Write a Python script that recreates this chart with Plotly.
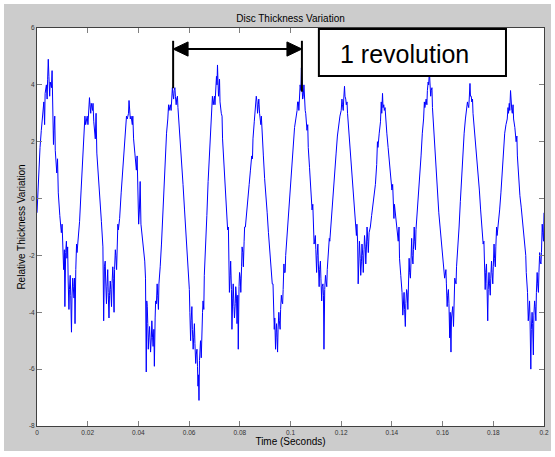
import plotly.graph_objects as go

# ---------------- data ----------------
# smooth-ish course of the measured signal (time in seconds, relative thickness)
trend_time = [
    0.0000, 0.0004, 0.0008, 0.0012, 0.0017, 0.0022, 0.0027, 0.0032, 0.0037, 0.0042,
    0.0047, 0.0052, 0.0057, 0.0062, 0.0067, 0.0072, 0.0078, 0.0084, 0.0090, 0.0096,
    0.0102, 0.0108, 0.0113, 0.0118, 0.0123, 0.0128, 0.0133, 0.0138, 0.0143, 0.0148,
    0.0153, 0.0158, 0.0163, 0.0168, 0.0174, 0.0180, 0.0186, 0.0192, 0.0198, 0.0204,
    0.0209, 0.0214, 0.0219, 0.0224, 0.0230, 0.0236, 0.0242, 0.0248, 0.0254, 0.0260,
    0.0266, 0.0271, 0.0276, 0.0281, 0.0286, 0.0291, 0.0296, 0.0301, 0.0306, 0.0311,
    0.0316, 0.0321, 0.0326, 0.0332, 0.0338, 0.0344, 0.0350, 0.0356, 0.0361, 0.0366,
    0.0371, 0.0376, 0.0381, 0.0386, 0.0392, 0.0398, 0.0404, 0.0410, 0.0416, 0.0422,
    0.0428, 0.0433, 0.0437, 0.0441, 0.0446, 0.0451, 0.0456, 0.0461, 0.0466, 0.0471,
    0.0476, 0.0481, 0.0486, 0.0491, 0.0496, 0.0501, 0.0506, 0.0511, 0.0516, 0.0521,
    0.0526, 0.0531, 0.0536, 0.0541, 0.0546, 0.0551, 0.0556, 0.0561, 0.0566, 0.0571,
    0.0576, 0.0582, 0.0588, 0.0593, 0.0598, 0.0603, 0.0608, 0.0613, 0.0618, 0.0623,
    0.0628, 0.0633, 0.0637, 0.0641, 0.0645, 0.0650, 0.0655, 0.0660, 0.0665, 0.0670,
    0.0675, 0.0680, 0.0685, 0.0690, 0.0695, 0.0700, 0.0705, 0.0710, 0.0714, 0.0718,
    0.0722, 0.0727, 0.0732, 0.0737, 0.0742, 0.0747, 0.0752, 0.0757, 0.0762, 0.0767,
    0.0772, 0.0777, 0.0782, 0.0787, 0.0792, 0.0797, 0.0802, 0.0807, 0.0812, 0.0817,
    0.0822, 0.0827, 0.0832, 0.0837, 0.0842, 0.0847, 0.0852, 0.0857, 0.0862, 0.0868,
    0.0873, 0.0878, 0.0883, 0.0888, 0.0893, 0.0898, 0.0903, 0.0908, 0.0913, 0.0918,
    0.0923, 0.0928, 0.0933, 0.0938, 0.0943, 0.0947, 0.0951, 0.0956, 0.0961, 0.0966,
    0.0971, 0.0976, 0.0981, 0.0986, 0.0991, 0.0996, 0.1001, 0.1006, 0.1011, 0.1016,
    0.1021, 0.1026, 0.1031, 0.1036, 0.1041, 0.1045, 0.1050, 0.1055, 0.1060, 0.1065,
    0.1070, 0.1075, 0.1080, 0.1085, 0.1090, 0.1095, 0.1100, 0.1105, 0.1110, 0.1115,
    0.1120, 0.1125, 0.1130, 0.1135, 0.1140, 0.1145, 0.1150, 0.1155, 0.1160, 0.1165,
    0.1170, 0.1175, 0.1180, 0.1185, 0.1190, 0.1195, 0.1200, 0.1205, 0.1210, 0.1215,
    0.1220, 0.1225, 0.1230, 0.1235, 0.1240, 0.1245, 0.1250, 0.1255, 0.1260, 0.1265,
    0.1270, 0.1275, 0.1280, 0.1285, 0.1290, 0.1295, 0.1300, 0.1305, 0.1310, 0.1315,
    0.1320, 0.1325, 0.1330, 0.1335, 0.1340, 0.1345, 0.1350, 0.1355, 0.1360, 0.1365,
    0.1370, 0.1375, 0.1380, 0.1385, 0.1390, 0.1395, 0.1400, 0.1405, 0.1410, 0.1415,
    0.1420, 0.1425, 0.1430, 0.1435, 0.1440, 0.1445, 0.1450, 0.1455, 0.1460, 0.1465,
    0.1470, 0.1475, 0.1480, 0.1485, 0.1490, 0.1495, 0.1500, 0.1505, 0.1510, 0.1515,
    0.1520, 0.1525, 0.1530, 0.1535, 0.1540, 0.1545, 0.1550, 0.1555, 0.1560, 0.1565,
    0.1570, 0.1575, 0.1580, 0.1585, 0.1590, 0.1595, 0.1600, 0.1605, 0.1610, 0.1615,
    0.1620, 0.1625, 0.1630, 0.1635, 0.1640, 0.1645, 0.1650, 0.1655, 0.1660, 0.1665,
    0.1670, 0.1675, 0.1680, 0.1685, 0.1690, 0.1695, 0.1700, 0.1705, 0.1710, 0.1715,
    0.1720, 0.1725, 0.1730, 0.1735, 0.1740, 0.1745, 0.1750, 0.1755, 0.1760, 0.1765,
    0.1770, 0.1775, 0.1780, 0.1785, 0.1790, 0.1795, 0.1800, 0.1805, 0.1810, 0.1815,
    0.1820, 0.1825, 0.1830, 0.1835, 0.1840, 0.1845, 0.1850, 0.1855, 0.1860, 0.1865,
    0.1870, 0.1875, 0.1880, 0.1885, 0.1890, 0.1895, 0.1900, 0.1905, 0.1910, 0.1915,
    0.1920, 0.1925, 0.1930, 0.1935, 0.1940, 0.1945, 0.1950, 0.1955, 0.1960, 0.1965,
    0.1970, 0.1975, 0.1980, 0.1985, 0.1990, 0.1995, 0.2000,
]
trend_value = [
    -0.5, 0.4, 1.3, 1.8, 2.4, 3.1, 3.4, 3.7, 4.0, 4.2,
    4.3, 4.1, 3.9, 3.3, 2.4, 1.7, 0.9, 0.2, -0.6, -1.2,
    -1.7, -1.8, -1.9, -2.1, -2.9, -3.2, -3.4, -3.5, -3.1, -2.8,
    -2.5, -1.9, -1.3, -0.8, 0.3, 1.3, 2.1, 2.6, 2.9, 3.2,
    3.3, 3.35, 3.1, 2.7, 2.1, 1.6, 0.9, 0.0, -0.8, -1.7,
    -2.4, -2.9, -3.1, -3.3, -3.4, -3.2, -3.0, -2.8, -2.5, -2.0,
    -1.4, -1.1, -0.7, 0.2, 1.0, 1.9, 2.5, 2.8, 3.0, 3.1,
    2.9, 2.6, 2.1, 1.6, 1.0, 0.2, -0.4, -0.9, -1.4, -2.0,
    -2.8, -3.6, -4.4, -4.9, -5.0, -4.9, -4.9, -4.6, -4.2, -3.7,
    -3.4, -3.0, -2.4, -1.6, -0.6, 0.5, 1.5, 2.3, 2.8, 3.1,
    3.3, 3.5, 3.7, 3.8, 3.6, 3.5, 3.2, 2.6, 1.8, 1.1,
    0.5, -0.4, -1.2, -1.9, -2.9, -4.0, -4.3, -4.6, -4.9, -5.1,
    -5.5, -5.9, -6.2, -5.7, -5.0, -4.5, -3.6, -2.7, -1.8, -0.6,
    0.6, 1.6, 2.6, 3.1, 3.3, 3.6, 3.8, 4.0, 4.1, 3.8,
    3.4, 3.0, 2.1, 1.3, 0.5, -0.3, -1.1, -2.0, -2.7, -3.2,
    -3.5, -3.8, -3.7, -3.5, -3.4, -3.1, -2.8, -2.4, -1.9, -1.5,
    -1.0, -0.4, 0.0, 0.5, 1.0, 1.5, 2.1, 2.7, 3.1, 3.4,
    3.3, 3.0, 2.6, 2.1, 1.5, 0.7, 0.2, -0.5, -1.2, -1.8,
    -2.4, -3.0, -3.6, -4.2, -4.7, -4.9, -4.6, -4.3, -3.9, -3.6,
    -3.2, -2.6, -2.0, -1.3, -0.6, 0.0, 0.8, 1.5, 2.1, 2.5,
    2.8, 3.1, 3.4, 3.6, 3.8, 4.0, 3.6, 3.4, 3.0, 2.4,
    1.8, 1.1, 0.4, -0.4, -1.0, -1.5, -1.8, -2.0, -2.3, -2.5,
    -2.8, -3.1, -3.4, -3.2, -2.9, -2.5, -2.0, -1.5, -0.8, -0.2,
    0.5, 1.0, 1.6, 2.2, 2.6, 2.9, 3.1, 3.3, 3.5, 3.6,
    3.3, 3.0, 2.4, 1.8, 1.1, 0.4, -0.2, -0.8, -1.3, -1.6,
    -1.9, -2.1, -2.2, -2.0, -1.8, -1.7, -1.6, -1.5, -1.2, -1.0,
    -0.6, -0.2, 0.1, 0.5, 1.2, 1.8, 2.3, 2.7, 3.0, 3.2,
    3.1, 2.8, 2.3, 1.8, 1.2, 0.7, 0.3, 0.0, -0.2, -0.6,
    -1.0, -1.5, -2.1, -2.7, -3.3, -3.7, -3.9, -3.7, -3.3, -2.9,
    -2.6, -2.3, -2.0, -1.8, -1.5, -1.1, -0.5, 0.2, 0.8, 1.5,
    2.3, 2.8, 3.2, 3.5, 3.8, 4.0, 4.1, 3.8, 3.2, 2.4,
    1.6, 0.9, 0.3, -0.5, -1.0, -1.5, -2.0, -2.3, -2.7, -3.0,
    -3.4, -3.7, -4.0, -4.2, -3.8, -3.4, -2.9, -2.4, -1.8, -1.0,
    -0.1, 0.8, 1.6, 2.3, 2.8, 3.1, 3.3, 3.5, 3.6, 3.4,
    3.0, 2.5, 1.9, 1.3, 0.8, 0.3, -0.4, -1.0, -1.6, -2.1,
    -2.6, -3.0, -3.2, -3.0, -2.8, -2.6, -2.4, -2.1, -1.7, -1.3,
    -0.9, -0.4, 0.2, 0.9, 1.7, 2.3, 2.6, 2.8, 3.0, 3.1,
    3.2, 3.0, 2.8, 2.5, 2.0, 1.5, 0.6, 0.1, -0.3, -0.8,
    -1.4, -1.9, -2.6, -3.3, -3.8, -4.3, -4.6, -4.4, -4.1, -3.8,
    -3.3, -3.0, -2.6, -2.2, -1.9, -1.2, -0.5,
]

# single noisy samples (hair-like spikes)
spike_time = [
    0.0030, 0.0040, 0.00445, 0.0050, 0.00595, 0.0065, 0.0070, 0.0081, 0.0099, 0.0105,
    0.0110, 0.0116, 0.0121, 0.0126, 0.0131, 0.0136, 0.0141, 0.0146, 0.0150, 0.0156,
    0.0189, 0.0201, 0.0207, 0.0212, 0.0221, 0.0233, 0.0263, 0.0269, 0.0274, 0.0279,
    0.0284, 0.0289, 0.0294, 0.0299, 0.0304, 0.0309, 0.0314, 0.0319, 0.0347, 0.0353,
    0.0363, 0.0368, 0.0378, 0.0395, 0.0401, 0.0407, 0.0425, 0.0431, 0.0435, 0.0439,
    0.0444, 0.0448, 0.0453, 0.0458, 0.0463, 0.0468, 0.0474, 0.0479, 0.0483, 0.0519,
    0.0529, 0.0534, 0.0539, 0.0544, 0.0549, 0.0554, 0.0601, 0.0606, 0.0611, 0.0616,
    0.0621, 0.0626, 0.0631, 0.0635, 0.0639, 0.0643, 0.0648, 0.0653, 0.0658, 0.0692,
    0.0702, 0.0708, 0.0712, 0.0716, 0.0720, 0.0730, 0.0755, 0.0759, 0.0764, 0.0769,
    0.0774, 0.0779, 0.0784, 0.0789, 0.0794, 0.0799, 0.0804, 0.0809, 0.0814, 0.0819,
    0.0850, 0.0860, 0.0865, 0.0870, 0.0875, 0.0885, 0.0931, 0.0936, 0.0941, 0.0945,
    0.0949, 0.0954, 0.0959, 0.0964, 0.0969, 0.0974, 0.0979, 0.1028, 0.1033, 0.1038,
    0.1043, 0.1048, 0.1053, 0.1058, 0.1068, 0.1088, 0.1093, 0.1098, 0.1103, 0.1108,
    0.1113, 0.1118, 0.1123, 0.1128, 0.1132, 0.1138, 0.1143, 0.1148, 0.1153, 0.1203,
    0.1208, 0.1213, 0.1218, 0.1223, 0.1262, 0.1267, 0.1272, 0.1277, 0.1282, 0.1287,
    0.1292, 0.1297, 0.1302, 0.1307, 0.1343, 0.1358, 0.1363, 0.1368, 0.1373, 0.1403,
    0.1408, 0.1428, 0.1438, 0.1443, 0.1448, 0.1453, 0.1458, 0.1463, 0.1468, 0.1473,
    0.1478, 0.1483, 0.1488, 0.1493, 0.1528, 0.1538, 0.1543, 0.1548, 0.1553, 0.1558,
    0.1608, 0.1613, 0.1618, 0.1623, 0.1628, 0.1633, 0.1638, 0.1643, 0.1648, 0.1653,
    0.1698, 0.1703, 0.1708, 0.1713, 0.1718, 0.1763, 0.1768, 0.1773, 0.1778, 0.1783,
    0.1788, 0.1793, 0.1798, 0.1803, 0.1808, 0.1813, 0.1858, 0.1863, 0.1868, 0.1873,
    0.1878, 0.1893, 0.1928, 0.1938, 0.1943, 0.1948, 0.1953, 0.1958, 0.1963, 0.1968,
    0.1973, 0.1978, 0.1983, 0.1988, 0.1993, 0.1998,
]
spike_value = [
    2.6, 3.5, 4.9, 3.6, 4.5, 1.9, 2.9, 1.4, -0.9, -2.5,
    -3.8, -1.5, -1.7, -3.9, -2.7, -4.7, -2.8, -3.5, -4.4, -1.6,
    2.9, 2.6, 3.55, 3.0, 3.35, 3.0, -4.3, -2.2, -3.7, -2.5,
    -4.2, -2.9, -3.8, -2.4, -4.0, -1.8, -2.5, -0.9, 2.2, 2.9,
    3.45, 2.8, 2.9, 1.5, -0.9, 0.6, -2.2, -6.1, -3.8, -5.3,
    -4.5, -5.4, -4.3, -5.2, -5.9, -3.6, -3.0, -3.9, -2.6, 3.3,
    3.1, 3.9, 3.5, 3.9, 3.3, 3.6, -3.2, -5.0, -3.8, -5.3,
    -4.4, -5.8, -5.3, -6.6, -7.1, -5.2, -5.6, -4.0, -3.9, 3.6,
    3.3, 4.3, 4.7, 3.6, 4.2, 2.9, -1.0, -3.3, -2.2, -4.6,
    -3.0, -4.2, -3.1, -4.4, -5.3, -2.6, -3.3, -1.7, -2.4, -1.0,
    1.4, 3.2, 3.6, 3.0, 3.5, 2.9, -3.0, -4.6, -5.3, -4.4,
    -5.4, -4.0, -4.6, -3.4, -3.7, -2.3, -2.6, 3.4, 3.1, 4.0,
    4.6, 3.5, 4.0, 3.1, 2.6, -0.2, -1.6, -1.3, -2.6, -1.6,
    -3.1, -2.2, -3.6, -3.0, -5.3, -2.7, -3.1, -2.0, -1.4, 3.5,
    3.1, 3.95, 3.5, 3.4, -0.9, -3.0, -1.5, -2.7, -1.6, -2.6,
    -1.3, -2.3, -1.0, -1.9, 2.0, 3.4, 3.7, 3.3, 3.2, 0.5,
    -0.7, -1.0, -3.0, -4.1, -3.3, -4.5, -3.2, -3.9, -2.1, -2.8,
    -1.4, -2.3, -1.0, -1.8, 3.4, 3.3, 4.1, 4.5, 3.6, 3.9,
    -2.8, -2.5, -3.8, -3.2, -4.9, -5.4, -3.8, -4.5, -2.8, -3.0,
    3.4, 3.2, 4.05, 3.6, 3.5, -1.5, -3.2, -2.3, -4.3, -2.6,
    -3.4, -2.2, -3.0, -1.6, -2.4, -1.0, 3.2, 3.35, 3.8, 3.1,
    3.3, 2.2, -2.0, -4.3, -3.6, -6.0, -4.0, -5.5, -3.6, -4.3,
    -2.6, -3.3, -1.9, -2.3, -0.9, -1.5,
]

x_ticks = [0, 0.02, 0.04, 0.06, 0.08, 0.1, 0.12, 0.14, 0.16, 0.18, 0.2]
x_tick_labels = ["0", "0.02", "0.04", "0.06", "0.08", "0.1", "0.12", "0.14", "0.16", "0.18", "0.2"]
y_ticks = [-8, -6, -4, -2, 0, 2, 4, 6]
y_tick_labels = ["-8", "-6", "-4", "-2", "0", "2", "4", "6"]

revolution_start = 0.0537   # s, left bracket of "1 revolution"
revolution_end = 0.1045     # s, right bracket
revolution_label = "1 revolution"

assert len(trend_time) == len(trend_value)
assert len(spike_time) == len(spike_value)

# merge the trend and the spikes in time order
samples = sorted(zip(trend_time + spike_time, trend_value + spike_value))
t_all = [s[0] for s in samples]
y_all = [s[1] for s in samples]

# ---------------- figure ----------------
W, H = 555, 457
L, R, T, B = 37, 11, 28, 31
PW, PH = W - L - R, H - T - B

def paper_x(px):
    return (px - L) / PW

def paper_y(py):
    return (H - B - py) / PH

FONT = "Liberation Sans, Arial, Helvetica, sans-serif"

fig = go.Figure()
fig.add_trace(go.Scatter(
    x=t_all, y=y_all, mode="lines",
    line=dict(color="#0000ff", width=1),
    hoverinfo="skip", showlegend=False,
))

shapes = [
    # grey figure window
    dict(type="rect", xref="paper", yref="paper", layer="below",
         x0=paper_x(4), x1=paper_x(551), y0=paper_y(451), y1=paper_y(4),
         fillcolor="#cccccc", line=dict(width=0)),
    # white axes area
    dict(type="rect", xref="paper", yref="paper", layer="below",
         x0=0, x1=1, y0=0, y1=1, fillcolor="#ffffff", line=dict(width=0)),
]

# revolution bracket (data coordinates)
arrow_y = 5.26
head_len = 0.0059
head_half = 0.25
shapes += [
    dict(type="line", xref="x", yref="y", x0=revolution_start, x1=revolution_start,
         y0=3.88, y1=5.55, line=dict(color="black", width=2)),
    dict(type="line", xref="x", yref="y", x0=revolution_end, x1=revolution_end,
         y0=3.76, y1=5.55, line=dict(color="black", width=2)),
    dict(type="line", xref="x", yref="y", x0=revolution_start + head_len / 2,
         x1=revolution_end - head_len / 2, y0=arrow_y, y1=arrow_y,
         line=dict(color="black", width=2)),
    dict(type="path", xref="x", yref="y",
         path=f"M {revolution_start},{arrow_y} L {revolution_start + head_len},{arrow_y + head_half} "
              f"L {revolution_start + head_len},{arrow_y - head_half} Z",
         fillcolor="black", line=dict(color="black", width=1)),
    dict(type="path", xref="x", yref="y",
         path=f"M {revolution_end},{arrow_y} L {revolution_end - head_len},{arrow_y + head_half} "
              f"L {revolution_end - head_len},{arrow_y - head_half} Z",
         fillcolor="black", line=dict(color="black", width=1)),
    # label box
    dict(type="rect", xref="x", yref="y", x0=0.1112, x1=0.1850, y0=4.31, y1=5.965,
         fillcolor="white", line=dict(color="black", width=2)),
]

fig.update_layout(
    width=W, height=H,
    margin=dict(l=L, r=R, t=T, b=B, pad=0),
    paper_bgcolor="#ffffff",
    plot_bgcolor="#ffffff",
    shapes=shapes,
    title=dict(text="Disc Thickness Variation", x=0.5, xref="paper", xanchor="center",
               y=1 - 18 / H, yref="container", yanchor="middle",
               font=dict(family=FONT, size=10, color="#000000")),
    annotations=[dict(text=revolution_label, x=0.1450, y=5.07, xref="x", yref="y",
                      showarrow=False, xanchor="center", yanchor="middle",
                      font=dict(family=FONT, size=25, color="#000000"))],
    showlegend=False,
)

axis_common = dict(
    showgrid=False, zeroline=False, showline=True, linecolor="#404040", linewidth=1,
    mirror="ticks", ticks="inside", ticklen=5, tickwidth=1, tickcolor="#808080",
    tickfont=dict(family=FONT, size=6.5, color="#333333"),
)
fig.update_xaxes(range=[0, 0.2], tickmode="array", tickvals=x_ticks, ticktext=x_tick_labels,
                 title=dict(text="Time (Seconds)", standoff=2,
                            font=dict(family=FONT, size=10, color="#000000")),
                 automargin=False, **axis_common)
fig.update_yaxes(range=[-8, 6], tickmode="array", tickvals=y_ticks, ticktext=y_tick_labels,
                 title=dict(text="Relative Thickness Variation", standoff=1,
                            font=dict(family=FONT, size=10, color="#000000")),
                 automargin=False, **axis_common)

# remove the browser's default page margin so the figure sits at the window origin
fig.write_html("out.html", config={"displayModeBar": False},
               post_script="document.body.style.margin='0';")
